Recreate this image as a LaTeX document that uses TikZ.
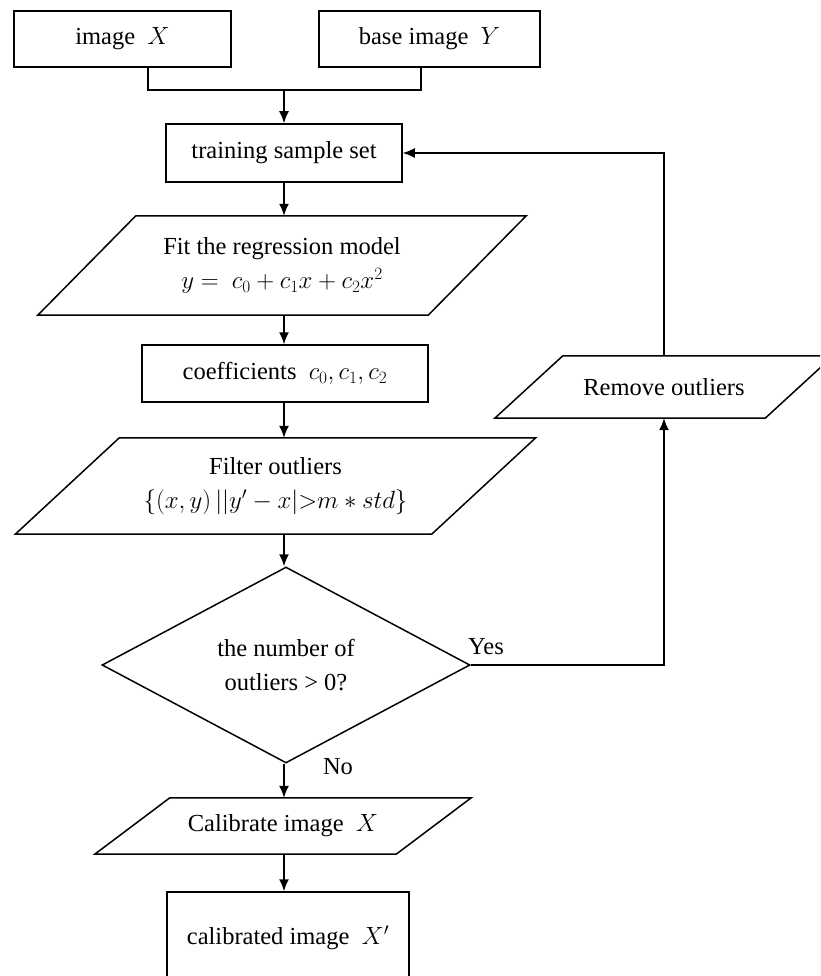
\documentclass[tikz,border=0pt]{standalone}
\usepackage{fontspec}
\setmainfont{Liberation Serif}
\usetikzlibrary{shapes.geometric,arrows.meta}
\newcommand\drawpara[2]{\draw[ln] ([xshift=#2]#1.north west) -- ([xshift=#2]#1.north east) -- ([xshift=-#2]#1.south east) -- ([xshift=-#2]#1.south west) -- cycle;}
\begin{document}
\begin{tikzpicture}[x=1pt,y=-1pt,
  every node/.style={font=\fontsize{24.5}{34}\selectfont, inner sep=0pt, align=center},
  ln/.style={line width=1.5pt},
  box/.style={draw, line width=1.5pt},
  arr/.style={line width=1.5pt, -{Latex[length=12pt,width=10pt]}},
  lbl/.style={font=\fontsize{24.5}{29}\selectfont}]
\clip (0,0) rectangle (820,976);
% nodes
\node[box, minimum width=217pt, minimum height=56pt] (imgX) at (122.5,39) {image \ $X$};
\node[box, minimum width=221pt, minimum height=56pt] (imgY) at (429.5,39) {base image \ $Y$};
\node[box, minimum width=236pt, minimum height=58pt] (train) at (284,153) {training sample set};
\node[minimum width=390pt, minimum height=99pt] (fit) at (282,265.5) {Fit the regression model\\ $y=\ c_0+c_1x+c_2x^2$};
\drawpara{fit}{49pt}
\node[box, minimum width=286pt, minimum height=57pt] (coef) at (285,373.5) {coefficients \ $c_0,c_1,c_2$};
\node[minimum width=416pt, minimum height=96pt] (filt) at (275.5,486) {Filter outliers\\ $\{(x,y)\,||y'-x|{>}m*std\}$};
\drawpara{filt}{52pt}
\node[minimum width=270pt, minimum height=62pt] (remove) at (664,387) {Remove outliers};
\drawpara{remove}{34pt}
\node[draw, shape=diamond, aspect=1.88, line width=1.5pt, minimum width=368pt, minimum height=196pt] (dia) at (286,665) {the number of\\ outliers > 0?};
\node[minimum width=301pt, minimum height=56pt] (calib) at (283,826) {Calibrate image \ $X$};
\drawpara{calib}{37.5pt}
\node[box, minimum width=242pt, minimum height=92pt] (out) at (288,938) {calibrated image \ $X'$};
\node[lbl] (yes) at (486,647) {Yes};
\node[lbl] (no) at (338,767) {No};
% connectors
\coordinate (jx) at (148,90);
\coordinate (jy) at (421,90);
\coordinate (jm) at (284,90);
\coordinate (col) at (284,0);
\draw[ln] (imgX.south -| jx) -- (jx) -- (jy) -- (imgY.south -| jy);
\draw[arr] (jm) -- (jm |- train.north);
\draw[arr] (train.south -| col) -- (fit.north -| col);
\draw[arr] (fit.south -| col) -- (coef.north -| col);
\draw[arr] (coef.south -| col) -- (filt.north -| col);
\draw[arr] (filt.south -| col) -- (dia.north -| col);
\draw[arr] (dia.south -| col) -- (calib.north -| col);
\draw[arr] (calib.south -| col) -- (out.north -| col);
\draw[arr] (dia.east) -| (remove.south);
\draw[arr] (remove.north) |- (train.east);
\end{tikzpicture}
\end{document}
